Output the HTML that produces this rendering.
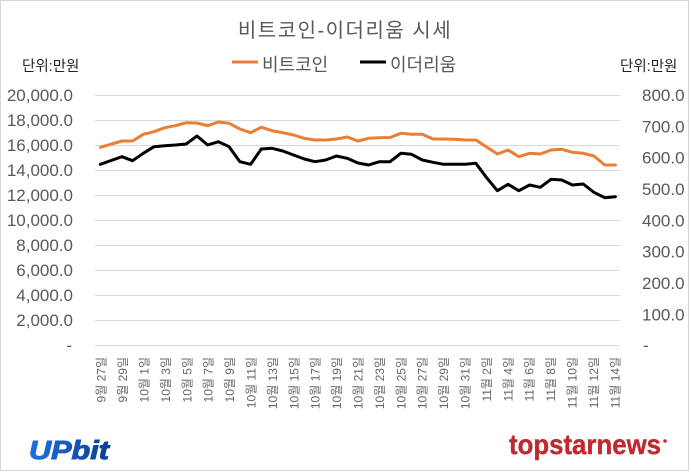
<!DOCTYPE html>
<html>
<head>
<meta charset="utf-8">
<style>
html,body{margin:0;padding:0;background:#fff;}
svg{display:block;}
text{font-family:"Liberation Sans","Noto Sans CJK KR",sans-serif;}
</style>
</head>
<body>
<svg width="691" height="472" viewBox="0 0 691 472" xmlns="http://www.w3.org/2000/svg">
<defs>
<linearGradient id="ub" x1="0" y1="0" x2="1" y2="0">
<stop offset="0" stop-color="#1f6fe0"/>
<stop offset="1" stop-color="#0b3f93"/>
</linearGradient>
</defs>
<rect x="0" y="0" width="691" height="472" fill="#fff"/>
<rect x="0.5" y="0.5" width="688" height="470" fill="none" stroke="#d6d6d6" stroke-width="1"/>

<!-- title -->
<text x="345" y="37" text-anchor="middle" font-size="20" letter-spacing="1.5" fill="#595959">비트코인-이더리움 시세</text>

<!-- legend -->
<line x1="232" y1="62" x2="258" y2="62" stroke="#e97f35" stroke-width="3"/>
<text x="262" y="71" font-size="18" fill="#595959">비트코인</text>
<line x1="360" y1="62" x2="386" y2="62" stroke="#000" stroke-width="3"/>
<text x="390" y="71" font-size="18" fill="#595959">이더리움</text>

<!-- unit labels -->
<text x="22" y="71" font-size="14.5" fill="#222">단위:만원</text>
<text x="620" y="71" font-size="14.5" fill="#222">단위:만원</text>

<!-- gridlines -->
<g stroke="#d9d9d9" stroke-width="1">
<line x1="95" y1="95.5" x2="620" y2="95.5"/>
<line x1="95" y1="120.5" x2="620" y2="120.5"/>
<line x1="95" y1="145.5" x2="620" y2="145.5"/>
<line x1="95" y1="170.5" x2="620" y2="170.5"/>
<line x1="95" y1="195.5" x2="620" y2="195.5"/>
<line x1="95" y1="220.5" x2="620" y2="220.5"/>
<line x1="95" y1="245.5" x2="620" y2="245.5"/>
<line x1="95" y1="270.5" x2="620" y2="270.5"/>
<line x1="95" y1="295.5" x2="620" y2="295.5"/>
<line x1="95" y1="320.5" x2="620" y2="320.5"/>
<line x1="95" y1="345.5" x2="620" y2="345.5"/>
</g>

<!-- left axis labels -->
<g font-size="17" fill="#595959" text-anchor="end">
<text x="73" y="101">20,000.0</text>
<text x="73" y="126">18,000.0</text>
<text x="73" y="151">16,000.0</text>
<text x="73" y="176">14,000.0</text>
<text x="73" y="201">12,000.0</text>
<text x="73" y="226">10,000.0</text>
<text x="73" y="251">8,000.0</text>
<text x="73" y="276">6,000.0</text>
<text x="73" y="301">4,000.0</text>
<text x="73" y="326">2,000.0</text>
<text x="72" y="351">-</text>
</g>

<!-- right axis labels -->
<g font-size="17" fill="#595959">
<text x="642" y="101">800.0</text>
<text x="642" y="132.4">700.0</text>
<text x="642" y="163.7">600.0</text>
<text x="642" y="195">500.0</text>
<text x="642" y="226.4">400.0</text>
<text x="642" y="257.7">300.0</text>
<text x="642" y="289.1">200.0</text>
<text x="642" y="320.5">100.0</text>
<text x="643" y="351">-</text>
</g>

<!-- x labels -->
<g font-size="12" fill="#666" text-anchor="end">
<text transform="translate(101.5,357) rotate(-90)" dy="0.35em">9월 27일</text>
<text transform="translate(122.9,357) rotate(-90)" dy="0.35em">9월 29일</text>
<text transform="translate(144.3,357) rotate(-90)" dy="0.35em">10월 1일</text>
<text transform="translate(165.7,357) rotate(-90)" dy="0.35em">10월 3일</text>
<text transform="translate(187.1,357) rotate(-90)" dy="0.35em">10월 5일</text>
<text transform="translate(208.5,357) rotate(-90)" dy="0.35em">10월 7일</text>
<text transform="translate(229.9,357) rotate(-90)" dy="0.35em">10월 9일</text>
<text transform="translate(251.3,357) rotate(-90)" dy="0.35em">10월 11일</text>
<text transform="translate(272.7,357) rotate(-90)" dy="0.35em">10월 13일</text>
<text transform="translate(294.1,357) rotate(-90)" dy="0.35em">10월 15일</text>
<text transform="translate(315.5,357) rotate(-90)" dy="0.35em">10월 17일</text>
<text transform="translate(336.9,357) rotate(-90)" dy="0.35em">10월 19일</text>
<text transform="translate(358.3,357) rotate(-90)" dy="0.35em">10월 21일</text>
<text transform="translate(379.7,357) rotate(-90)" dy="0.35em">10월 23일</text>
<text transform="translate(401.1,357) rotate(-90)" dy="0.35em">10월 25일</text>
<text transform="translate(422.5,357) rotate(-90)" dy="0.35em">10월 27일</text>
<text transform="translate(443.9,357) rotate(-90)" dy="0.35em">10월 29일</text>
<text transform="translate(465.3,357) rotate(-90)" dy="0.35em">10월 31일</text>
<text transform="translate(486.7,357) rotate(-90)" dy="0.35em">11월 2일</text>
<text transform="translate(508.1,357) rotate(-90)" dy="0.35em">11월 4일</text>
<text transform="translate(529.5,357) rotate(-90)" dy="0.35em">11월 6일</text>
<text transform="translate(550.9,357) rotate(-90)" dy="0.35em">11월 8일</text>
<text transform="translate(572.3,357) rotate(-90)" dy="0.35em">11월 10일</text>
<text transform="translate(593.7,357) rotate(-90)" dy="0.35em">11월 12일</text>
<text transform="translate(615.1,357) rotate(-90)" dy="0.35em">11월 14일</text>
</g>

<!-- series -->
<polyline fill="none" stroke="#e97f35" stroke-width="3" stroke-linejoin="round" stroke-linecap="round"
points="100.4,147.3 111.1,144.2 121.9,141 132.6,141 143.3,134.3 154,131.7 164.8,127.7 175.5,125.7 186.2,122.7 197,123 207.7,125.7 218.4,122 229.1,123.3 239.9,129 250.6,132.7 261.3,127.3 272.1,130.7 282.8,132.7 293.5,135 304.3,138.3 315,140 325.7,140 336.4,139 347.2,137 357.9,141 368.6,138.3 379.4,137.7 390.1,137.5 400.8,133.3 411.5,134.3 422.3,134.3 433,139 443.7,139 454.5,139.3 465.2,140 475.9,140 486.6,147 497.4,154 508.1,150 518.8,156.7 529.6,153.3 540.3,154 551,150 561.7,149.3 572.5,152.3 583.2,153.3 593.9,156 604.7,165 615.4,165"/>
<polyline fill="none" stroke="#000" stroke-width="3" stroke-linejoin="round" stroke-linecap="round"
points="100.4,164.3 111.1,160.5 121.9,156.7 132.6,160.7 143.3,153.3 154,146.7 164.8,145.7 175.5,145 186.2,144 197,136 207.7,145 218.4,141.7 229.1,146.7 239.9,161.7 250.6,164.3 261.3,149 272.1,148.3 282.8,151 293.5,155 304.3,159 315,161.7 325.7,160 336.4,156 347.2,158.3 357.9,163 368.6,165 379.4,161.7 390.1,161.7 400.8,153.3 411.5,154.3 422.3,160 433,162.3 443.7,164.3 454.5,164.3 465.2,164.3 475.9,163.3 486.6,177.7 497.4,190.7 508.1,184.3 518.8,190.7 529.6,185 540.3,187.3 551,179.3 561.7,180 572.5,185 583.2,184 593.9,192.3 604.7,197.7 615.4,196.7"/>

<!-- logos -->
<text x="29" y="459" font-size="26" font-weight="bold" font-style="italic" fill="url(#ub)" stroke="url(#ub)" stroke-width="1" textLength="80" lengthAdjust="spacingAndGlyphs">UPbit</text>
<text x="509" y="454" font-size="28" font-weight="bold" fill="#be2a30" stroke="#be2a30" stroke-width="0.4" textLength="152" lengthAdjust="spacingAndGlyphs">topstarnews</text>
<circle cx="665" cy="441" r="1.8" fill="#be2a30"/>
</svg>
</body>
</html>
